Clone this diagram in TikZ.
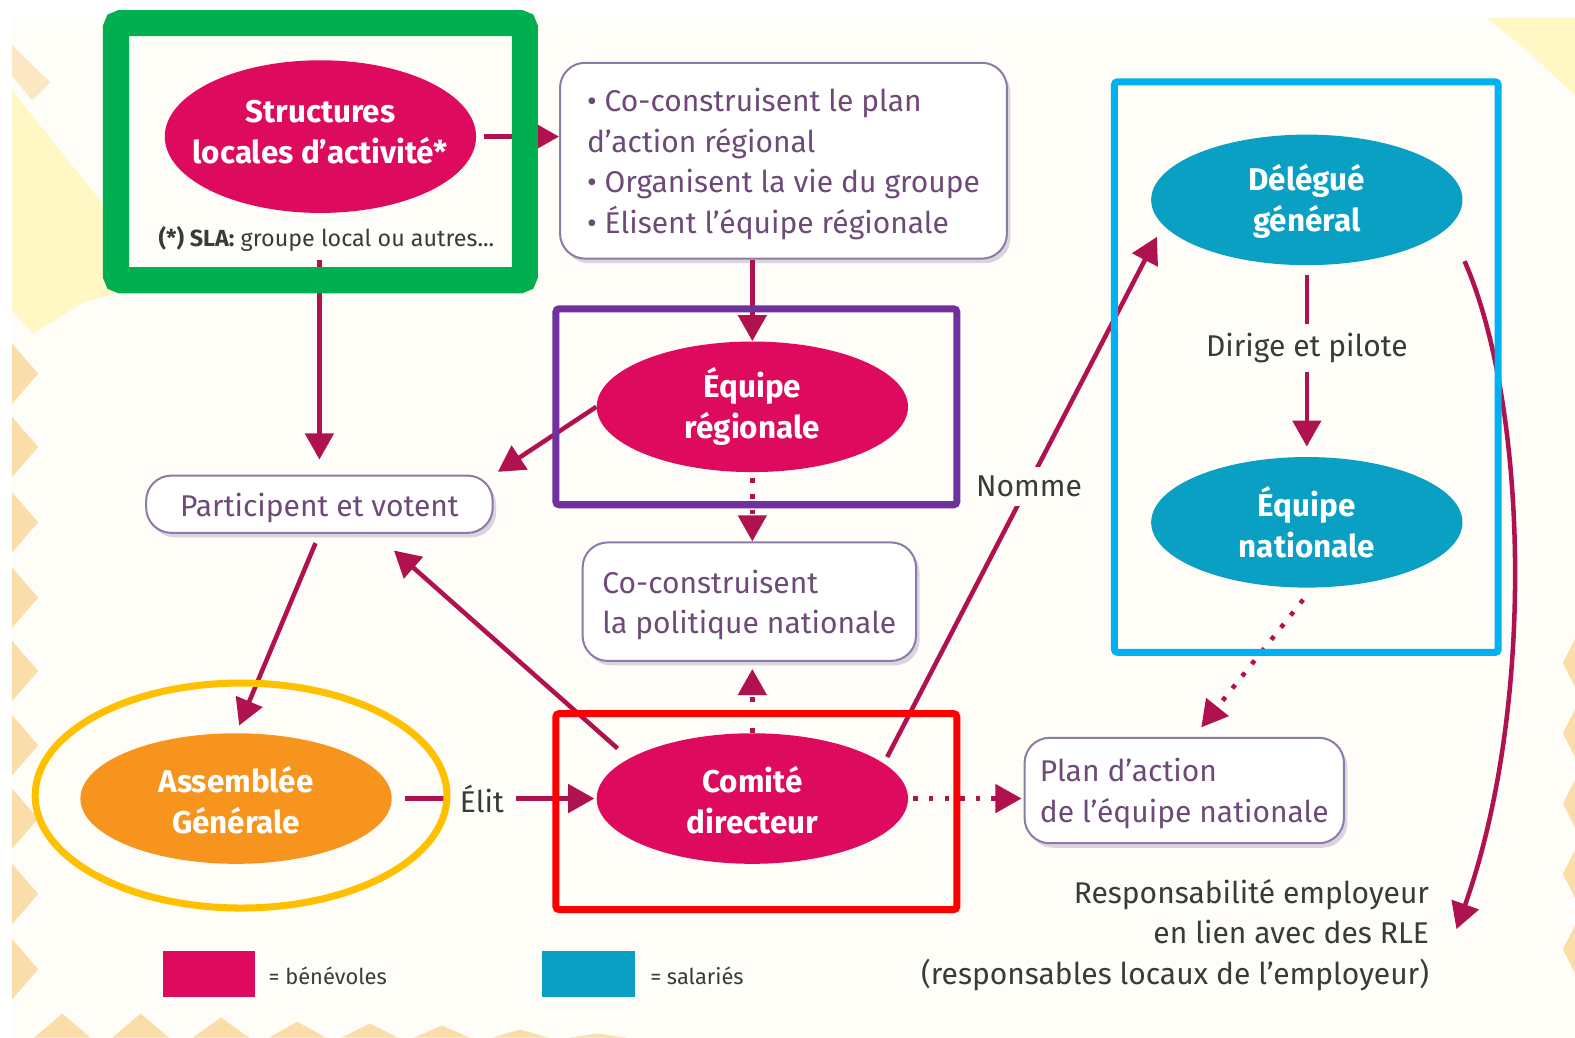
\documentclass[tikz,border=0pt]{standalone}
\usepackage{fontspec}
\setmainfont{Fira Sans}
\usetikzlibrary{arrows.meta,shapes.geometric,shadows}
\definecolor{paper}{HTML}{FFFDF8}
\definecolor{tornyellow}{HTML}{FFF8C4}
\definecolor{zigzag}{HTML}{FBDDAA}
\definecolor{benevole}{HTML}{DE0A5E}
\definecolor{salarie}{HTML}{0AA0C4}
\definecolor{assemblee}{HTML}{F7941E}
\definecolor{fleche}{HTML}{B0124F}
\definecolor{boxtext}{HTML}{6E4A78}
\definecolor{boxline}{HTML}{8C7BA6}
\definecolor{darktext}{HTML}{3A3A3A}
\definecolor{framegreen}{RGB}{0,176,80}
\definecolor{framepurple}{RGB}{112,48,160}
\definecolor{framecyan}{RGB}{0,176,240}
\definecolor{framered}{RGB}{255,0,0}
\definecolor{frameyellow}{RGB}{255,192,0}
\newcommand{\bigtxt}{\fontsize{17}{23.2}\selectfont}
\newcommand{\boldtxt}{\fontsize{17.8}{23.2}\selectfont\bfseries}
\newcommand{\smalltxt}{\fontsize{13.2}{16}\selectfont}
\newcommand{\legendtxt}{\fontsize{12.4}{16}\selectfont}
\newcommand{\lift}{\rule{0pt}{17pt}}
\tikzset{
  oval/.style={ellipse,inner sep=0pt,minimum width=6.2cm,minimum height=2.6cm,text=white,align=center,font=\boldtxt},
  boxnode/.style={draw=boxline,line width=.04cm,fill=white,rounded corners=.5cm,inner sep=0pt,text=boxtext,align=left,font=\bigtxt,
    drop shadow={shadow xshift=.07cm,shadow yshift=-.09cm,fill=boxline!70,opacity=.45}},
  plain/.style={text=darktext,font=\bigtxt,align=center},
  onpaper/.style={plain,fill=paper,inner xsep=7pt,inner ysep=5pt},
  arrowline/.style={->,draw=fleche,line width=.09cm},
  dotline/.style={arrowline,dash pattern=on .09cm off .22cm},
  legendbox/.style={minimum width=1.84cm,minimum height=.92cm,inner sep=0pt},
  highlight/.style={line width=.14cm,rounded corners=.06cm}
}
\begin{document}
\begin{tikzpicture}[x=.02cm,y=-.02cm,>={Triangle[length=.52cm,width=.56cm]}]
\useasboundingbox (0,0) rectangle (1568,1033);
\fill[white] (0,0) rectangle (1568,1033);
\fill[paper] (12,17) rectangle (1568,1033);
% torn paper in the corners
\fill[tornyellow] (12,90)--(100,200)--(125,290)--(85,300)--(33,332)--(12,310)--cycle;
\fill[zigzag!70] (12,45)--(50,82)--(32,100)--(12,75)--cycle;
\fill[tornyellow] (1480,18)--(1568,18)--(1568,95)--(1520,50)--cycle;
\foreach \y in {372,445,520,595,668,742,815,890,965}
  \fill[zigzag] (12,\y-30)--(38,\y)--(12,\y+30)--cycle;
\foreach \x/\h in {62/24,140/24,220/20,296/16,368/14,440/12,518/8,595/4}
  \fill[zigzag] (\x-28,1033)--(\x,1033-\h)--(\x+28,1033)--cycle;
\foreach \y in {660,730,800,870,945}
  \fill[zigzag] (1568,\y-24)--(1556,\y)--(1568,\y+24)--cycle;
% nodes
\node (sla) at (319,136) [oval,fill=benevole,minimum height=3.04cm,inner xsep=-1cm] {Structures\\locales d'activité*\\[-18pt]\mbox{}};
\node (note) at (325,238) [text=darktext,font=\smalltxt] {\textbf{(*) SLA:} groupe local ou autres...};
\node (actions) at (780,160) [boxnode,minimum width=8.9cm,minimum height=3.9cm] {%
  \lift• Co-construisent le plan\\d'action régional\\• Organisent la vie du groupe\\• Élisent l'équipe régionale};
\node (part) at (318,502) [boxnode,minimum width=6.9cm,minimum height=1.14cm,align=center] {\lift Participent et votent};
\node (politique) at (746,599) [boxnode,minimum width=6.64cm,minimum height=2.36cm] {\lift Co-construisent\\la politique nationale};
\node (plan) at (1179,787) [boxnode,minimum width=6.36cm,minimum height=2.1cm] {\lift Plan d'action\\de l'équipe nationale};
\node (regionale) at (749,405) [oval,fill=benevole] {\lift Équipe\\régionale};
\node (comite) at (749,795) [oval,fill=benevole] {\lift Comité\\directeur};
\node (ag) at (235,795) [oval,fill=assemblee] {\lift Assemblée\\Générale};
\node (delegue) at (1301,199) [oval,fill=salarie] {\lift Délégué\\général};
\node (nationale) at (1301,520) [oval,fill=salarie] {Équipe\\nationale};
\node (resp) at (1423,931) [plain,anchor=east,align=right,inner sep=0pt] {Responsabilité employeur\\en lien avec des RLE\\(responsables locaux de l'employeur)};
\node (legendb) at (208,970) [legendbox,fill=benevole] {};
\node (legendbtxt) at (267,972) [anchor=west,inner sep=0pt,text=darktext,font=\legendtxt] {= bénévoles};
\node (legends) at (586,970) [legendbox,fill=salarie] {};
\node (legendstxt) at (647,972) [anchor=west,inner sep=0pt,text=darktext,font=\legendtxt] {= salariés};
\coordinate (curvestart) at (1458,260);
\coordinate (curveend) at (1450,925);
% connectors
\draw[arrowline,shorten <=.16cm] (sla.east) -- (sla.east -| actions.west);
\draw[arrowline,shorten <=.04cm,shorten >=.3cm] (part.north |- note.south) -- (part.north);
\draw[arrowline] (regionale.north |- actions.south) -- (regionale.north);
\draw[arrowline,shorten >=.1cm] (regionale.west) -- (part.north east);
\draw[dotline,shorten <=.12cm] (regionale.south) -- (regionale.south |- politique.north);
\draw[arrowline,shorten <=.2cm,shorten >=.16cm] (part.south) -- (ag.north);
\draw[arrowline,shorten <=.3cm,shorten >=.5cm] (comite.162) -- (part.-28);
\draw[arrowline,shorten <=.26cm,shorten >=.04cm] (ag.east) -- node[onpaper,pos=.44] (elit) {Élit} (comite.west);
\draw[dotline,shorten >=.14cm] (comite.north) -- (comite.north |- politique.south);
\draw[dotline,shorten <=.1cm,shorten >=.04cm] (comite.east) -- (comite.east -| plan.west);
\draw[arrowline,shorten <=.14cm,shorten >=.26cm] (comite.15) -- node[onpaper,pos=.52,yshift=-.06cm] (nomme) {Nomme} (delegue.190);
\draw[arrowline,shorten <=.18cm,shorten >=.2cm] (delegue.south) -- node[onpaper,pos=.41,yshift=-.08cm] (dirige) {Dirige et pilote} (nationale.north);
\draw[dotline,shorten <=.3cm,shorten >=.24cm] (nationale.-85) -- (plan.80);
\draw[arrowline] (curvestart) .. controls (1520,400) and (1530,700) .. (curveend);
% coloured frames
\draw[framegreen,line width=.52cm,rounded corners=.1cm] (115.5,23) rectangle (522.5,279);
\draw[highlight,framepurple] (553.5,307.5) rectangle (952.5,502.5);
\draw[highlight,framecyan] (1109.5,81.5) rectangle (1491.5,649.5);
\draw[highlight,framered] (553.5,710.5) rectangle (952.5,905.5);
\draw[frameyellow,line width=.14cm] (240,792) ellipse [x radius=205,y radius=112];
\end{tikzpicture}
\end{document}
